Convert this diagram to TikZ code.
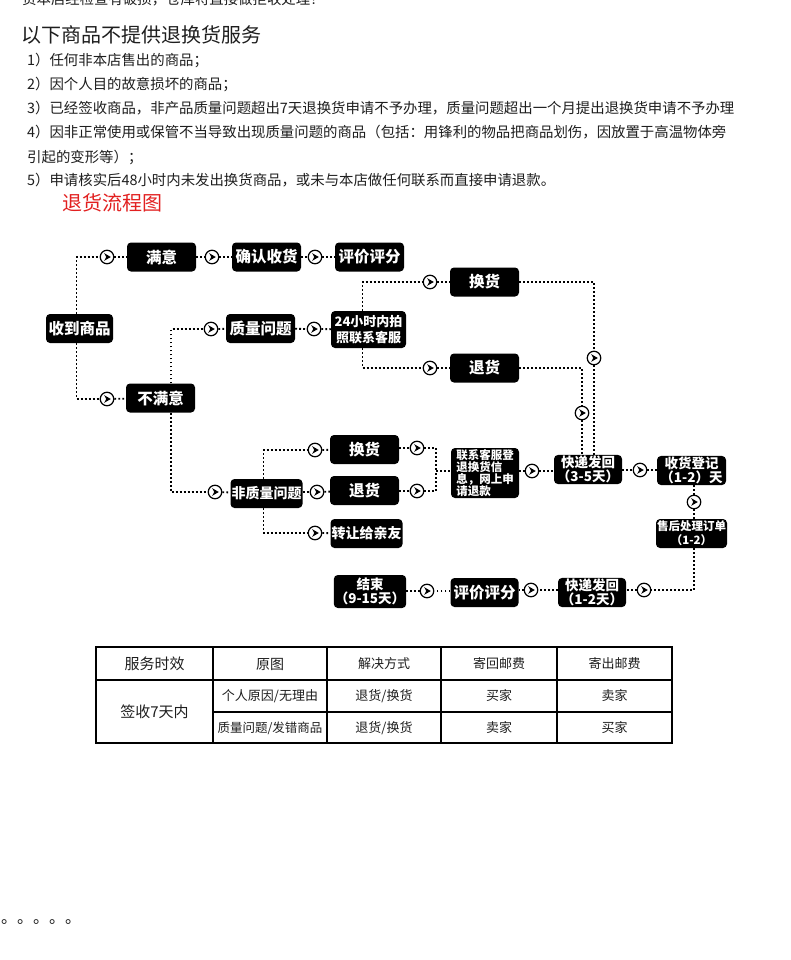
\documentclass[tikz,border=0pt]{standalone}
\usepackage{fontspec}
\newfontfamily\cjk{Noto Sans CJK SC}
\usetikzlibrary{calc}
\definecolor{titlered}{RGB}{226,32,32}
\definecolor{txt}{RGB}{30,30,30}
\tikzset{
  box/.style={fill=black, rounded corners=4pt, text=white, font=\cjk\bfseries\fontsize{15.5}{17}\selectfont,
    minimum width=69pt, minimum height=29pt, inner sep=1pt, align=center},
  smallbox/.style={box, font=\cjk\bfseries\fontsize{13.5}{14}\selectfont},
  dotline/.style={line width=1.8pt, dash pattern=on 1.8pt off 2.2pt},
  arr/.style={circle, draw=black, line width=1.2pt, fill=white, minimum size=13.5pt, inner sep=0pt,
    path picture={\fill[black, shift={(path picture bounding box.center)}, rotate=#1]
      (3.8,0) -- (-2.8,3.8) -- (-0.8,0) -- (-2.8,-3.8) -- cycle;}},
  bodyline/.style={anchor=west, inner sep=0pt, text=txt, font=\cjk\fontsize{14.4}{16}\selectfont},
  cell/.style={inner sep=0pt, text=txt, font=\cjk\fontsize{13}{15}\selectfont},
  tline/.style={line width=1.3pt, draw=black}
}
\begin{document}
\begin{tikzpicture}[x=1pt,y=1pt]
\path[use as bounding box, fill=white] (0,0) rectangle (790,-960);
\clip (0,0) rectangle (790,-960);

% ---------- text block ----------
\node[anchor=base west, inner sep=0pt, text=txt, font=\cjk\fontsize{14.4}{16}\selectfont] (t0) at (22,-4.5) {货本店经检查有破损，仓库将直接做拒收处理！};
\node[anchor=west, inner sep=0pt, text=txt, font=\cjk\fontsize{20}{22}\selectfont] (t1) at (21,-35) {以下商品不提供退换货服务};
\node[bodyline] (l1) at (27,-60) {1）任何非本店售出的商品；};
\node[bodyline] (l2) at (27,-84) {2）因个人目的故意损坏的商品；};
\node[bodyline] (l3) at (27,-108) {3）已经签收商品，非产品质量问题超出7天退换货申请不予办理，质量问题超出一个月提出退换货申请不予办理};
\node[bodyline] (l4) at (27,-132) {4）因非正常使用或保管不当导致出现质量问题的商品（包括：用锋利的物品把商品划伤，因放置于高温物体旁};
\node[bodyline] (l4b) at (27,-157) {引起的变形等）；};
\node[bodyline] (l5) at (27,-180) {5）申请核实后48小时内未发出换货商品，或未与本店做任何联系而直接申请退款。};
\node[anchor=west, inner sep=0pt, text=titlered, font=\cjk\fontsize{20}{22}\selectfont] (title) at (62,-203) {退货流程图};

% ---------- flow nodes ----------
\node[box, minimum width=67pt] (recv) at (79.5,-328.5) {收到商品};
\node[box] (my) at (161.5,-257) {满意};
\node[box] (qr) at (266.5,-257) {确认收货};
\node[box] (pj1) at (369.5,-257) {评价评分};
\node[box] (bmy) at (160.5,-398) {不满意};
\node[box] (zl) at (260.5,-328.5) {质量问题};
\node[box, minimum width=75pt, minimum height=37pt, font=\cjk\bfseries\fontsize{13}{16}\selectfont] (h24) at (368.5,-329.5) {24小时内拍\\照联系客服};
\node[box] (hh1) at (484.5,-282) {换货};
\node[box] (th1) at (484.5,-368) {退货};
\node[box, font=\cjk\bfseries\fontsize{14}{16}\selectfont] (fzl) at (266.5,-493.5) {非质量问题};
\node[box] (hh2) at (364.5,-449.5) {换货};
\node[box] (th2) at (364.5,-490.5) {退货};
\node[box, font=\cjk\bfseries\fontsize{14}{16}\selectfont] (zr) at (366.5,-533.5) {转让给亲友};
\node[box, minimum width=68pt, minimum height=50pt, align=left, font=\cjk\bfseries\fontsize{11.5}{12}\selectfont] (lx) at (485,-473) {联系客服登\\退换货信\\息，网上申\\请退款};
\node[smallbox, minimum width=68pt] (kd1) at (588,-469.5) {快递发回\\（3-5天）};
\node[smallbox] (sh) at (691.5,-470.5) {收货登记\\（1-2）天};
\node[smallbox, font=\cjk\bfseries\fontsize{11.5}{14}\selectfont] (hc) at (691.5,-533.5) {售后处理订单\\（1-2）};
\node[smallbox, minimum width=68pt] (kd2) at (592,-592.5) {快递发回\\（1-2天）};
\node[box, minimum width=68pt] (pj2) at (484.5,-592.5) {评价评分};
\node[smallbox, minimum width=68pt, minimum height=33pt] (js) at (370,-591.5) {结束\\（9-15天）};

% ---------- arrow markers ----------
\node[arr=0] (a_my) at (107,-257) {};
\node[arr=0] (a_qr) at (212,-257) {};
\node[arr=0] (a_pj) at (315,-257) {};
\node[arr=0] (a_bmy) at (107,-399) {};
\node[arr=0] (a_zl) at (211,-329) {};
\node[arr=0] (a_24) at (314,-329) {};
\node[arr=0] (a_hh1) at (430,-282) {};
\node[arr=0] (a_th1) at (430,-368) {};
\node[arr=-90] (a_v1) at (594,-358) {};
\node[arr=-90] (a_v2) at (582,-413) {};
\node[arr=0] (a_fzl) at (215,-492) {};
\node[arr=0] (a_hh2) at (315,-450) {};
\node[arr=0] (a_th2) at (317,-492) {};
\node[arr=0] (a_zr) at (315,-533) {};
\node[arr=0] (a_o1) at (417,-448) {};
\node[arr=0] (a_o2) at (417,-491) {};
\node[arr=0] (a_lx) at (532,-471) {};
\node[arr=0] (a_kd1) at (640,-470) {};
\node[arr=-90] (a_sh) at (694,-502) {};
\node[arr=180] (a_b1) at (644,-590) {};
\node[arr=180] (a_b2) at (531,-590) {};
\node[arr=180] (a_b3) at (427,-591) {};
\coordinate (j) at (436,-471);

% ---------- connectors ----------
\draw[dotline] ([xshift=-3pt]recv.north) |- (a_my);
\draw[dotline] (a_my) -- (my);
\draw[dotline] (my) -- (a_qr);
\draw[dotline] (a_qr) -- (qr);
\draw[dotline] (qr) -- (a_pj);
\draw[dotline] (a_pj) -- (pj1);
\draw[dotline] ([xshift=-3pt]recv.south) |- (a_bmy);
\draw[dotline] (a_bmy) -- (bmy);
\draw[dotline] ([xshift=10.5pt]bmy.north) |- (a_zl);
\draw[dotline] (a_zl) -- (zl);
\draw[dotline] (zl) -- (a_24);
\draw[dotline] (a_24) -- (h24);
\draw[dotline] ([xshift=-6pt]h24.north) |- (a_hh1);
\draw[dotline] (a_hh1) -- (hh1);
\draw[dotline] ([xshift=-6pt]h24.south) |- (a_th1);
\draw[dotline] (a_th1) -- (th1);
\draw[dotline] (hh1) -| (a_v1);
\draw[dotline] (a_v1) -- (a_v1 |- kd1.north);
\draw[dotline] (th1) -| (a_v2);
\draw[dotline] (a_v2) -- (a_v2 |- kd1.north);
\draw[dotline] ([xshift=10.5pt]bmy.south) |- (a_fzl);
\draw[dotline] (a_fzl) -- (fzl);
\draw[dotline] ([xshift=-3pt]fzl.north) |- (a_hh2);
\draw[dotline] (a_hh2) -- (hh2);
\draw[dotline] (fzl.east |- a_th2) -- (a_th2);
\draw[dotline] (a_th2) -- (th2);
\draw[dotline] ([xshift=-3pt]fzl.south) |- (a_zr);
\draw[dotline] (a_zr) -- (zr);
\draw[dotline] (hh2.east |- a_o1) -- (a_o1);
\draw[dotline] (th2.east |- a_o2) -- (a_o2);
\draw[dotline] (a_o1) -| (j);
\draw[dotline] (a_o2) -| (j);
\draw[dotline] (j) -- (lx.west |- j);
\draw[dotline] (lx.east |- a_lx) -- (a_lx);
\draw[dotline] (a_lx) -- (kd1.west |- a_lx);
\draw[dotline] (kd1.east |- a_kd1) -- (a_kd1);
\draw[dotline] (a_kd1) -- (sh.west |- a_kd1);
\draw[dotline] (sh.south -| a_sh) -- (a_sh);
\draw[dotline] (a_sh) -- (hc.north -| a_sh);
\draw[dotline] (hc.south -| a_sh) |- (a_b1);
\draw[dotline] (a_b1) -- (kd2.east |- a_b1);
\draw[dotline] (kd2.west |- a_b2) -- (a_b2);
\draw[dotline] (a_b2) -- (pj2.east |- a_b2);
\draw[dotline] (pj2.west |- a_b3) -- (a_b3);
\draw[dotline] (a_b3) -- (js.east |- a_b3);

% ---------- table ----------
\draw[tline, line width=1.6pt] (96,-647) rectangle (672,-743);
\draw[tline] (96,-680) -- (672,-680);
\draw[tline] (213,-712) -- (672,-712);
\foreach \cx in {213,327,441,557} \draw[tline] (\cx,-647) -- (\cx,-743);
\node[cell, font=\cjk\fontsize{15}{17}\selectfont] (h1) at (154.5,-664) {服务时效};
\node[cell, font=\cjk\fontsize{14}{16}\selectfont] (h2) at (270,-664) {原图};
\node[cell] (h3) at (384,-664) {解决方式};
\node[cell] (h4) at (499,-664) {寄回邮费};
\node[cell] (h5) at (614.5,-664) {寄出邮费};
\node[cell, font=\cjk\fontsize{15}{17}\selectfont] (c0) at (154.5,-712) {签收7天内};
\node[cell] (r1a) at (270,-696) {个人原因/无理由};
\node[cell] (r1b) at (384,-696) {退货/换货};
\node[cell] (r1c) at (499,-696) {买家};
\node[cell] (r1d) at (614.5,-696) {卖家};
\node[cell, font=\cjk\fontsize{12.5}{15}\selectfont] (r2a) at (270,-728) {质量问题/发错商品};
\node[cell] (r2b) at (384,-728) {退货/换货};
\node[cell] (r2c) at (499,-728) {卖家};
\node[cell] (r2d) at (614.5,-728) {买家};

% ---------- dots at bottom ----------
\node[anchor=base west, inner sep=0pt, text=txt, font=\cjk\fontsize{16}{18}\selectfont] (dots) at (1,-923) {。。。。。};
\end{tikzpicture}
\end{document}
